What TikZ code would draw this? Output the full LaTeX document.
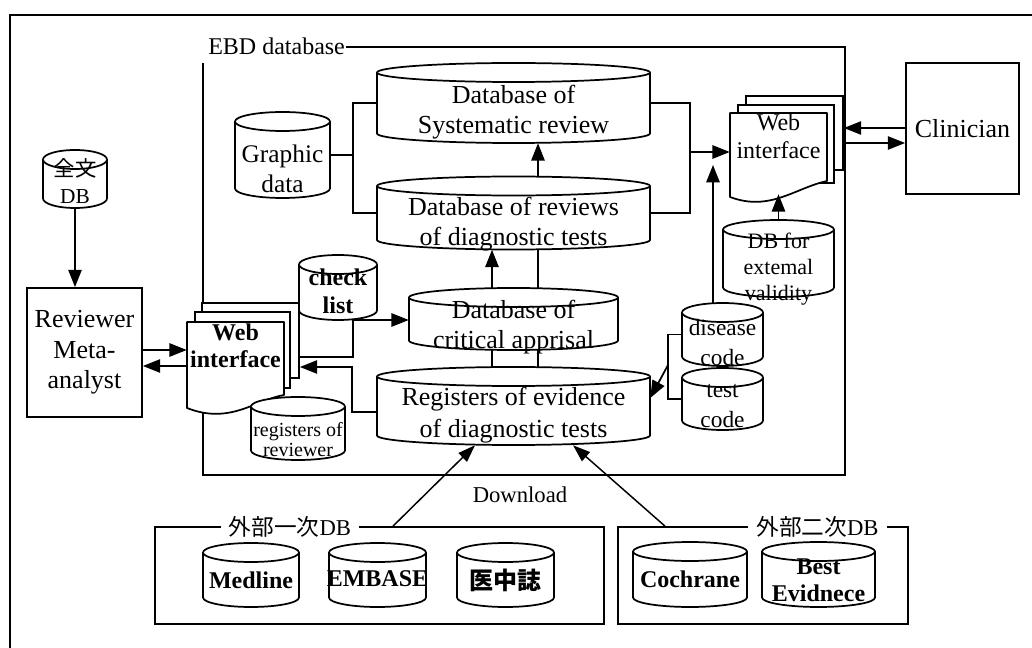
\documentclass[tikz,border=0pt]{standalone}
\usepackage{fontspec}
\setmainfont{Liberation Serif}
\newfontfamily\cjk{Noto Sans CJK JP}
\usetikzlibrary{arrows.meta}
\tikzset{
 ln/.style={line width=1.3pt},
 arr/.style={ln, -{Triangle[length=13pt,width=10pt]}},
 darr/.style={line width=1.1pt, -{Triangle[length=13pt,width=9pt]}},
 cylline/.style={ln, fill=white, line join=round},
 cylnode/.style={inner sep=0, draw=none},
 cyltext/.style={inner sep=0, align=center},
 sheet/.style={ln, draw, fill=white, inner sep=0},
 docnode/.style={inner sep=0, draw=none},
 boxnode/.style={ln, draw, fill=white, inner sep=0, align=center},
 gbox/.style={ln, draw, inner sep=0},
 glabel/.style={fill=white, inner xsep=6pt, inner ysep=1pt},
}
\newcommand\dbcyl[8]{%
 \pgfmathsetmacro\cyL{#2-#4/2}%
 \pgfmathsetmacro\cyR{#2+#4/2}%
 \pgfmathsetmacro\cyT{#3-#5/2+9.5}%
 \pgfmathsetmacro\cyB{#3+#5/2-9.5}%
 \pgfmathsetmacro\cyX{#4*0.375}%
 \draw[cylline] (\cyL,\cyT) -- (\cyL,\cyB) arc[start angle=180,end angle=360,x radius=\cyX pt,y radius=7.125pt] -- (\cyR,\cyT) arc[start angle=0,end angle=180,x radius=\cyX pt,y radius=7.125pt] -- cycle;
 \draw[cylline] (\cyL,\cyT) arc[start angle=180,end angle=360,x radius=\cyX pt,y radius=7.125pt];
 \node[cylnode,minimum width=#4*0.75pt,minimum height=#5*0.75pt] (#1) at (#2,#3) {};
 \node[cyltext,font={#6}] (#1-t) at (#2,#3+#7) {#8};
}
\begin{document}
\begin{tikzpicture}[x=0.75pt,y=-0.75pt]
\useasboundingbox (0,0) rectangle (1032,648);
% outer frame
\draw[line width=1.5pt] (10,648) -- (10,15) -- (1032,15);
% EBD database box
\node[anchor=west, inner sep=0, font=\fontsize{18}{20}\selectfont] (ebdl) at (208,46) {EBD database};
\draw[ln] ([xshift=1pt]ebdl.east |- 0,47) -- (845,47) -- (845,475) -- (203,475) -- (203,63);
% group boxes
\node[gbox, minimum width=449*0.75pt, minimum height=97*0.75pt] (ext1) at (379.5,575.5) {};
\node[glabel, font=\fontsize{17}{20}\selectfont] (ext1-l) at (290,527) {{\cjk 外部一次}DB};
\node[gbox, minimum width=290*0.75pt, minimum height=97*0.75pt] (ext2) at (763,575.5) {};
\node[glabel, font=\fontsize{17}{20}\selectfont] (ext2-l) at (817.5,527) {{\cjk 外部二次}DB};
\node[font=\fontsize{17}{20}\selectfont] (dl) at (520,495) {Download};
% left web interface
\node[sheet, minimum width=97*0.75pt, minimum height=75*0.75pt] (webLc) at (250.5,340.5) {};
\node[sheet, minimum width=95*0.75pt, minimum height=76*0.75pt] (webLb) at (242.5,350) {};
\draw[cylline] (187,408) -- (187,322) -- (284,322) -- (284,395) .. controls (255,400) and (230,425) .. (187,408) -- cycle;
\node[docnode, minimum width=97*0.75pt, minimum height=86*0.75pt] (webL) at (235.5,365) {};
\node[cyltext, font=\bfseries\fontsize{18}{20.25}\selectfont] (webL-t) at (235.5,345.5) {Web\\interface};
% right web interface
\node[sheet, minimum width=97*0.75pt, minimum height=74*0.75pt] (webRc) at (794.5,133) {};
\node[sheet, minimum width=96*0.75pt, minimum height=78*0.75pt] (webRb) at (786,144) {};
\draw[cylline] (730,197) -- (730,113) -- (827,113) -- (827,181) .. controls (795,188) and (770,212) .. (730,197) -- cycle;
\node[docnode, minimum width=97*0.75pt, minimum height=81*0.75pt] (webR) at (778.5,153.5) {};
\node[cyltext, font=\fontsize{18}{21}\selectfont] (webR-t) at (778.5,136) {Web\\interface};
% cylinders
\dbcyl{ftdb}{75}{179}{64}{58}{\fontsize{16}{20}\selectfont}{2}{{\cjk 全文}\\DB}
\dbcyl{graphic}{282.5}{155}{95}{86}{\fontsize{19}{23}\selectfont}{14}{Graphic\\data}
\dbcyl{sys}{513.5}{103}{273}{80}{\fontsize{19.5}{22.5}\selectfont}{9}{Database of\\Systematic review}
\dbcyl{rev}{513.5}{213}{273}{73}{\fontsize{19.5}{22.5}\selectfont}{11}{Database of reviews\\of diagnostic tests}
\dbcyl{crit}{513.5}{319}{209}{62}{\fontsize{19.5}{22.5}\selectfont}{8}{Database of\\critical apprisal}
\dbcyl{reg}{513.5}{406}{273}{78}{\fontsize{19.5}{24}\selectfont}{9}{Registers of evidence\\of diagnostic tests}
\dbcyl{check}{338}{287.5}{78}{65}{\bfseries\fontsize{18}{21}\selectfont}{4}{check\\list}
\dbcyl{regrev}{298}{428.5}{94}{63}{\fontsize{15}{15}\selectfont}{11.5}{registers of\\reviewer}
\dbcyl{extval}{778.5}{258.5}{111}{77}{\fontsize{16.5}{19.5}\selectfont}{11}{DB for\\extemal\\validity}
\dbcyl{disease}{722.5}{334.5}{81}{63}{\fontsize{17.5}{22.5}\selectfont}{8}{disease\\code}
\dbcyl{test}{722.5}{399}{81}{62}{\fontsize{17.5}{22.5}\selectfont}{7.5}{test\\code}
\dbcyl{medline}{251}{575}{96}{64}{\bfseries\fontsize{18}{20}\selectfont}{5}{Medline}
\dbcyl{embase}{377.5}{575}{97}{64}{\bfseries\fontsize{18}{20}\selectfont}{4}{EMBASE}
\dbcyl{ichushi}{505.5}{575}{97}{64}{\cjk\bfseries\fontsize{18}{20}\selectfont}{5}{医中誌}
\dbcyl{cochrane}{690}{574.5}{114}{65}{\bfseries\fontsize{18}{20}\selectfont}{5}{Cochrane}
\dbcyl{best}{818.5}{574.5}{113}{65}{\bfseries\fontsize{18}{20}\selectfont}{5.5}{Best\\Evidnece}
% boxes
\node[boxnode, minimum width=115*0.75pt, minimum height=129*0.75pt, font=\fontsize{19.5}{23}\selectfont] (reviewer) at (84.5,352.5) {Reviewer\\Meta-\\analyst};
\node[boxnode, minimum width=113*0.75pt, minimum height=131*0.75pt, font=\fontsize{19.5}{23}\selectfont] (clin) at (962.5,128.5) {Clinician};
% connectors
\draw[arr] (ftdb.south) -- (reviewer.north -| ftdb.south);
\draw[arr] (reviewer.east |- 0,350) -- (webL.west |- 0,350);
\draw[arr] (webL.west |- 0,366) -- (reviewer.east |- 0,366);
\coordinate (j1) at (353,320);
\coordinate (j2) at (353,357);
\draw[ln] (check.south -| j1) -- (j2) -- (webLc.east |- j2);
\draw[arr] (j1) -- (crit.west |- j1);
\coordinate (j3) at (352,367);
\draw[arr] ([yshift=-4.5pt]reg.west) -| (j3) -- (webLc.east |- j3);
\draw[arr] (crit.north -| 492,0) -- (rev.south -| 492,0);
\draw[ln] (crit.north -| 538,0) -- (rev.south -| 538,0);
\draw[ln] (reg.north -| 492,0) -- (crit.south -| 492,0);
\draw[ln] (reg.north -| 538,0) -- (crit.south -| 538,0);
\draw[arr] (rev.north -| 538,0) -- (sys.south -| 538,0);
\coordinate (gj) at (353,155);
\draw[ln] (graphic.east) -- (gj);
\draw[ln] (sys.west) -| (gj) |- (rev.west);
\coordinate (rj) at (690,152);
\draw[ln] (sys.east) -| (rj) |- (rev.east);
\draw[arr] (rj) -- (webR.west |- rj);
\coordinate (dtip) at (713,165);
\draw[arr] (disease.north -| dtip) -- (dtip);
\draw[arr] (extval.north) -- (webR.south);
\draw[arr] (clin.west |- 0,128) -- (webRc.east |- 0,128);
\draw[arr] (webRc.east |- 0,143) -- (clin.west |- 0,143);
\coordinate (bj) at (668,365);
\draw[ln] (disease.west) -| (bj) |- (test.west);
\draw[arr] (bj) -- (reg.east |- 0,398);
\draw[darr] (ext1.north -| 393,0) -- (reg.south -| 475,0);
\draw[darr] (ext2.north -| 665,0) -- (reg.south -| 573,0);
\end{tikzpicture}
\end{document}
